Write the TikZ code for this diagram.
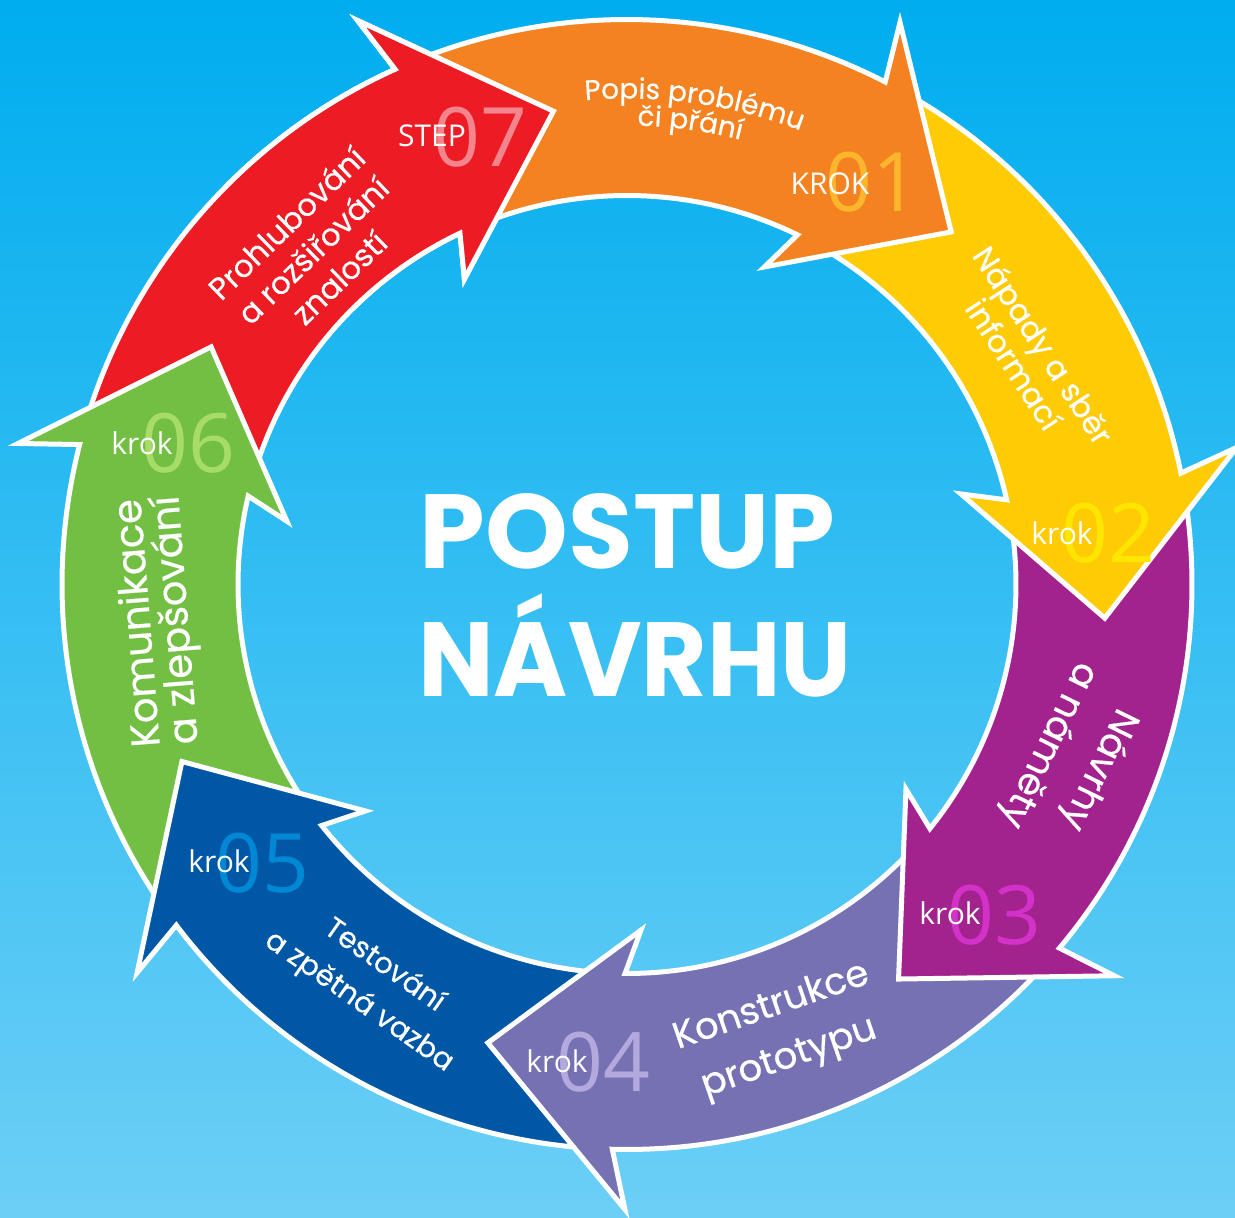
\documentclass[tikz,border=0pt]{standalone}
\usepackage{fontspec}
\newfontfamily\pop{Poppins}[FakeBold=0.5]
\newfontfamily\popt{Poppins}
\newfontfamily\ops{Open Sans}
\usetikzlibrary{decorations.text}
\definecolor{bgT}{RGB}{0,173,239}
\definecolor{bgB}{RGB}{108,207,246}
\definecolor{cRed}{HTML}{ED1C24}
\definecolor{cOrange}{HTML}{F58220}
\definecolor{cYellow}{HTML}{FFCB05}
\definecolor{cPurple}{HTML}{A2238E}
\definecolor{cLav}{HTML}{7571B3}
\definecolor{cBlue}{HTML}{0057A6}
\definecolor{cGreen}{HTML}{72BF44}
\definecolor{nRed}{HTML}{F4848D}
\definecolor{nOrange}{HTML}{FBB62E}
\definecolor{nYellow}{HTML}{FFE600}
\definecolor{nPurple}{HTML}{D232C8}
\definecolor{nLav}{HTML}{B3A9DD}
\definecolor{nBlue}{HTML}{0088D5}
\definecolor{nGreen}{HTML}{A7DC67}
\newcommand\ArrShape[1]{({#1+64}:565) arc[start angle={#1+64}, end angle={#1+15.4}, radius=565] -- ({#1+16.7}:625) -- ({#1}:479) -- ({#1+19.2}:346) -- ({#1+16.6}:389) arc[start angle={#1+16.6}, end angle={#1+64}, radius=389] -- cycle}
\tikzset{
  arr/.style={fill=#1, draw=white, line width=5pt, line join=miter, miter limit=10},
  lbl/.style={text=white, inner sep=0pt, align=center},
  num/.style={text=#1, inner sep=0pt, anchor=base, font=\ops\fontsize{82}{82}\selectfont},
  krk/.style={text=white, inner sep=0pt, anchor=base, font=\ops\fontsize{30}{30}\selectfont},
  ttl/.style={text=white, inner sep=0pt, anchor=base, font=\popt\bfseries\fontsize{105.3}{105.3}\selectfont}
}
\begin{document}
\begin{tikzpicture}[x=1pt,y=1pt]
\useasboundingbox (0,0) rectangle (1235,1218);
\fill[top color=bgT, bottom color=bgB] (0,0) rectangle (1235,1218);
\begin{scope}[shift={(627,633.5)}]
  \path[arr=cRed] \ArrShape{-261.17};
  \path[arr=cGreen] \ArrShape{-209.74};
  \path[arr=cBlue] \ArrShape{-158.31};
  \path[arr=cLav] \ArrShape{-106.89};
  \path[arr=cPurple] \ArrShape{-55.46};
  \path[arr=cYellow] \ArrShape{-4.03};
  \path[arr=cOrange] \ArrShape{47.4};
  \begin{scope}
    \clip (0,0) -- (60:800) -- (97:800) -- (135:800) -- cycle;
    \path[arr=cRed] \ArrShape{-261.17};
  \end{scope}
  % curved label of step 01
  \path[decorate, decoration={text along path, text align=center,
     text={|\pop\fontsize{28}{28}\selectfont\color{white}|Popis problému}}]
     (112:486) arc[start angle=112, end angle=52, radius=486];
  \path[decorate, decoration={text along path, text align=center,
     text={|\pop\fontsize{28}{28}\selectfont\color{white}|či přání}}]
     (112.2:459) arc[start angle=112.2, end angle=52.2, radius=459];
\end{scope}
% numbers
\node[num=nRed] (n7) at (480,1051) {07};
\node[num=nOrange] (n1) at (872,1006) {01};
\node[num=nYellow] (n2) at (1108,655) {02};
\node[num=nPurple] (n3) at (994,273) {03};
\node[num=nLav] (n4) at (603,126) {04};
\node[num=nBlue] (n5) at (262,325) {05};
\node[num=nGreen] (n6) at (188,745) {06};
\node[krk] (k7) at (432,1071) {STEP};
\node[krk] (k1) at (830,1023) {KROK};
\node[krk] (k2) at (1062,673) {krok};
\node[krk] (k3) at (950,293) {krok};
\node[krk] (k4) at (557,145) {krok};
\node[krk] (k5) at (219,345) {krok};
\node[krk] (k6) at (142,763) {krok};
% labels
\node[lbl, rotate=44, font=\pop\fontsize{31}{38}\selectfont] (lab7) at (312.5,968) {Prohlubování\\a rozšiřování\\znalostí};
\node[lbl, rotate=-57, font=\pop\fontsize{31}{35}\selectfont] (lab2) at (1029,863.5) {Nápady a sběr\\informací};
\node[lbl, rotate=-116, font=\pop\fontsize{37}{56}\selectfont] (lab3) at (1073,461) {Návrhy\\a náměty};
\node[lbl, rotate=19, font=\pop\fontsize{37}{54}\selectfont] (lab4) at (780.5,185) {Konstrukce\\prototypu};
\node[lbl, rotate=-35, font=\pop\fontsize{29}{44}\selectfont] (lab5) at (371.5,234) {Testování\\a zpětná vazba};
\node[lbl, rotate=94.5, font=\pop\fontsize{40}{38}\selectfont] (lab6) at (159,596.5) {Komunikace\\a zlepšování};
% title
\node[ttl] (t1) at (627.5,649) {POSTUP};
\node[ttl] (t2) at (635,521) {\scalebox{0.956}[1]{NÁVRHU}};
\end{tikzpicture}
\end{document}
